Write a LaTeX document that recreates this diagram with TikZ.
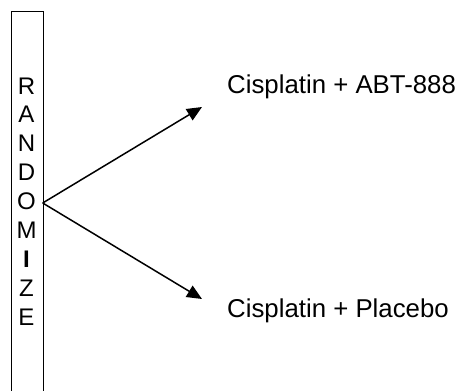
\documentclass[tikz,border=0pt]{standalone}
\usepackage{fontspec}
\setmainfont{Liberation Sans}
\usetikzlibrary{arrows.meta}
\begin{document}
\begin{tikzpicture}[x=1pt,y=-1pt,
  letter/.style={anchor=base,inner sep=0pt,font=\fontsize{24}{24}\selectfont},
  armlabel/.style={anchor=base west,inner sep=0pt,font=\fontsize{25.8}{26}\selectfont},
  branch/.style={line width=1.5pt,-{Triangle[length=15pt,width=13pt]}}]
  \useasboundingbox (0,0) rectangle (467,391);
  \clip (0,0) rectangle (467,391);
  % tall randomisation column, open at the bottom
  \node[draw,line width=1pt,minimum width=31.7pt,minimum height=400pt,
        inner sep=0pt,anchor=north west] (box) at (11,10.7) {};
  % vertical lettering
  \foreach \ch [count=\i from 0] in {R,A,N,D,O,M,\textbf{I},Z,E}
    \node[letter] (l\i) at (26.5,94+28.9*\i) {\ch};
  % branching point and arm ends
  \coordinate (src) at (42.7,203);
  \coordinate (armA) at (202,107);
  \coordinate (armB) at (202,299);
  \draw[branch] (src) -- (armA);
  \draw[branch] (src) -- (armB);
  % treatment arms
  \node[armlabel] (trtA) at (227,93) {Cisplatin + ABT-888};
  \node[armlabel] (trtB) at (227,317.5) {Cisplatin + Placebo};
\end{tikzpicture}
\end{document}
